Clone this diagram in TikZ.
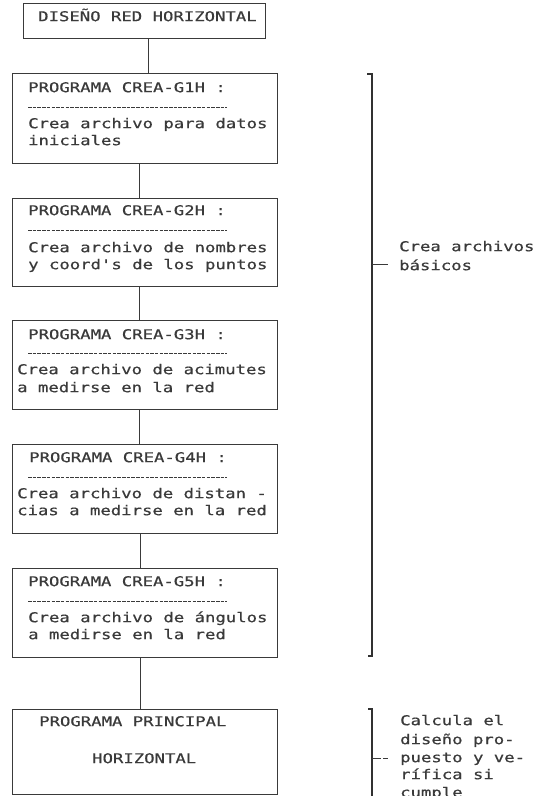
\documentclass[tikz,border=0pt]{standalone}
\usepackage{fontspec}
\newfontfamily\dotmono[FakeStretch=1.28,FakeBold=0.6]{DejaVu Sans Mono}
\usetikzlibrary{calc}
\definecolor{ink}{HTML}{3A3A3A}
\begin{document}
\begin{tikzpicture}[x=1pt,y=-1pt,
  box/.style={draw=ink, line width=1.1pt, rectangle, inner sep=0pt, anchor=north west, minimum width=265pt},
  txt/.style={anchor=mid west, inner sep=0pt, text=ink, font=\dotmono\fontsize{13.5}{17}\selectfont},
  sep/.style={draw=ink, line width=0.8pt, dash pattern=on 3.5pt off 1.2pt},
  link/.style={draw=ink, line width=1.1pt},
  brace/.style={draw=ink!85!black, line width=1.4pt},
]
\useasboundingbox (0,0) rectangle (541,796);
\clip (0,0) rectangle (541,796);

% program boxes
\node[box, minimum width=242pt, minimum height=35pt] (top) at (23,3) {};
\node[box, minimum height=90pt] (b1) at (12,73) {};
\node[box, minimum height=88pt] (b2) at (12,198) {};
\node[box, minimum height=89pt] (b3) at (12,320) {};
\node[box, minimum height=89pt] (b4) at (12,444) {};
\node[box, minimum height=89pt] (b5) at (12,568) {};
\node[box, minimum height=85pt] (bp) at (12,709) {};

% texts
\node[txt] (t0) at (38,19) {DISEÑO RED HORIZONTAL};

\node[txt] (t1a) at (28,90) {PROGRAMA CREA-G1H :};
\node[txt] (t1b) at (28,126) {Crea archivo para datos};
\node[txt] (t1c) at (28,143) {iniciales};

\node[txt] (t2a) at (28,213) {PROGRAMA CREA-G2H :};
\node[txt] (t2b) at (28,250) {Crea archivo de nombres};
\node[txt] (t2c) at (28,267) {y coord's de los puntos};

\node[txt] (t3a) at (28,337) {PROGRAMA CREA-G3H :};
\node[txt] (t3b) at (17,372) {Crea archivo de acimutes};
\node[txt] (t3c) at (17,390) {a medirse en la red};

\node[txt] (t4a) at (29,460) {PROGRAMA CREA-G4H :};
\node[txt] (t4b) at (17,496) {Crea archivo de distan -};
\node[txt] (t4c) at (17,513) {cias a medirse en la red};

\node[txt] (t5a) at (28,584) {PROGRAMA CREA-G5H :};
\node[txt] (t5b) at (28,620) {Crea archivo de ángulos};
\node[txt] (t5c) at (28,637) {a medirse en la red};

\node[txt] (tpa) at (39,724) {PROGRAMA PRINCIPAL};
\node[txt] (tpb) at (92,761) {HORIZONTAL};

% dashed separators under the program titles
\draw[sep] (28,107) -- (227,107);
\draw[sep] (28,230) -- (227,230);
\draw[sep] (28,353) -- (227,353);
\draw[sep] (28,477) -- (227,477);
\draw[sep] (28,601) -- (227,601);

% connectors
\draw[link] ([xshift=4pt]top.south) -- ([xshift=4pt]top.south |- b1.north);
\draw[link] ([xshift=-6pt]b1.south) -- ([xshift=-6pt]b1.south |- b2.north);
\draw[link] ([xshift=-6pt]b2.south) -- ([xshift=-6pt]b2.south |- b3.north);
\draw[link] ([xshift=-6pt]b3.south) -- ([xshift=-6pt]b3.south |- b4.north);
\draw[link] ([xshift=-5pt]b4.south) -- ([xshift=-5pt]b4.south |- b5.north);
\draw[link] ([xshift=-5pt]b5.south) -- ([xshift=-5pt]b5.south |- bp.north);

% bracket for the basic file programs
\coordinate (ba) at (372,74);
\coordinate (bb) at (372,656);
\draw[brace] ($(ba)+(-5,0)$) -- (ba) -- (bb) -- ($(bb)+(-4,0)$);
\node[txt] (l1a) at (399,249) {Crea archivos};
\node[txt] (l1b) at (399,268) {básicos};
\draw[link, line width=0.8pt] (ba |- l1b.west) -- ++(16,0);

% bracket for the main program
\coordinate (pa) at (372,709);
\coordinate (pb) at (372,800);
\draw[brace] ($(pa)+(-4,0)$) -- (pa) -- (pb);
\node[txt] (l2a) at (400,723) {Calcula el};
\node[txt] (l2b) at (400,742) {diseño pro-};
\node[txt] (l2c) at (400,760) {puesto y ve-};
\node[txt] (l2d) at (400,777) {rífica si};
\node[txt] (l2e) at (400,795) {cumple};
\draw[link, line width=0.8pt, dash pattern=on 9pt off 2pt] (pa |- l2c.west) -- ++(16,0);
\end{tikzpicture}
\end{document}
